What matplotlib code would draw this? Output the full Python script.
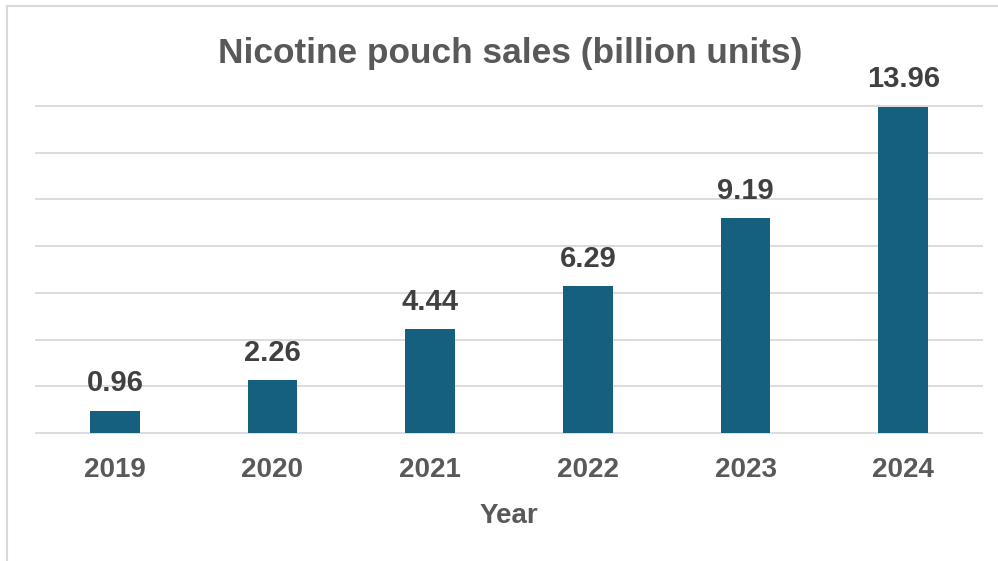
import matplotlib
matplotlib.use("Agg")
import matplotlib.pyplot as plt
from matplotlib.lines import Line2D

years = ["2019", "2020", "2021", "2022", "2023", "2024"]
sales = [0.96, 2.26, 4.44, 6.29, 9.19, 13.96]
yticks = [0, 2, 4, 6, 8, 10, 12, 14]

W, H = 998, 561
fig = plt.figure(figsize=(W / 100, H / 100), dpi=100)
plt.rcParams['font.family'] = ['Liberation Sans', 'DejaVu Sans']

ax = fig.add_axes([36 / W, 1 - 433 / H, (982 - 36) / W, (433 - 106) / H])
x = list(range(len(years)))
ax.bar(x, sales, width=0.317, color="#15607F", zorder=3)
ax.set_xlim(-0.5, len(years) - 0.5)
ax.set_ylim(0, 14)
ax.set_yticks(yticks)
ax.yaxis.grid(True, color="#D9D9D9", linewidth=1.3, zorder=0)
for gl in ax.get_ygridlines():
    gl.set_clip_on(False)
ax.tick_params(axis="y", left=False, labelleft=False)
ax.tick_params(axis="x", bottom=False, pad=14)
ax.set_xticks(x)
ax.set_xticklabels(years, fontsize=20, fontweight="bold", color="#595959")
for s in ax.spines.values():
    s.set_visible(False)

for xi, v in zip(x, sales):
    ax.annotate(f"{v:.2f}", (xi, v), xytext=(0, 14), textcoords="offset points",
                ha="center", va="baseline", fontsize=21, fontweight="bold",
                color="#404040")

fig.text(509 / W, 1 - 523 / H, "Year", ha="center", va="baseline",
         fontsize=20, fontweight="bold", color="#595959")
fig.text(510 / W, 1 - 63 / H, "Nicotine pouch sales (billion units)",
         ha="center", va="baseline", fontsize=25.4, fontweight="bold",
         color="#595959")

# figure border (left and top visible)
fig.add_artist(Line2D([7 / W, 7 / W], [0, 1 - 6 / H], transform=fig.transFigure,
                      color="#D9D9D9", linewidth=1.5))
fig.add_artist(Line2D([7 / W, 1], [1 - 6 / H, 1 - 6 / H], transform=fig.transFigure,
                      color="#D9D9D9", linewidth=1.5))

fig.savefig("out.png", dpi=100, facecolor="white")
